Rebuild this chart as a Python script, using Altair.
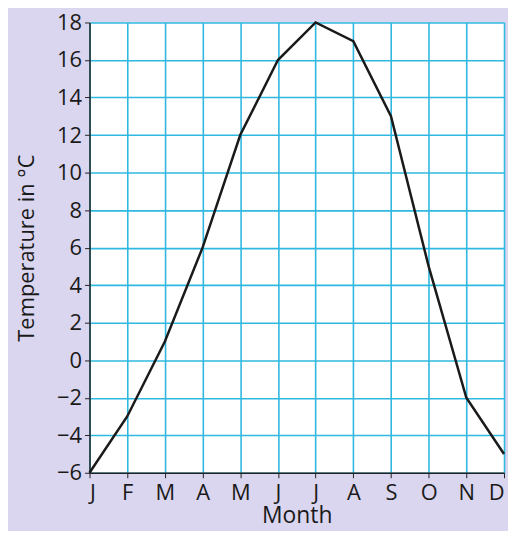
import altair as alt
import pandas as pd

month_labels = ["J", "F", "M", "A", "M", "J", "J", "A", "S", "O", "N", "D"]
month_index = list(range(12))
temperatures = [-6, -3, 1, 6, 12, 16, 18, 17, 13, 5, -2, -5]
y_ticks = list(range(-6, 19, 2))

df = pd.DataFrame({"m": month_index, "t": temperatures})

label_arr = "[" + ",".join("'" + s + "'" for s in month_labels) + "]"

chart = alt.Chart(df).mark_line(color="#1a1a1a", strokeWidth=2.5).encode(
    x=alt.X("m:Q",
            scale=alt.Scale(domain=[0, 11], nice=False, zero=False),
            axis=alt.Axis(values=month_index, labelExpr=label_arr + "[datum.value]",
                          title="Month", titleFontSize=23, titleFontWeight="normal",
                          titlePadding=1,
                          labelFontSize=22, labelPadding=5, tickSize=5,
                          labelOverlap=False,
                          grid=True, gridColor="#2fb8e0", gridWidth=1.6,
                          domainColor="#222222", domainWidth=1.5,
                          tickColor="#222222", labelColor="#1a1a1a",
                          titleColor="#1a1a1a", labelFont="Open Sans",
                          titleFont="Open Sans")),
    y=alt.Y("t:Q",
            scale=alt.Scale(domain=[-6, 18], nice=False, zero=False),
            axis=alt.Axis(values=y_ticks, labelExpr="replace(format(datum.value,'d'),'-','\u2212')",
                          title="Temperature in \u00b0C", titleFontSize=22,
                          titleFontWeight="normal", titlePadding=18,
                          labelFontSize=22, labelPadding=3, tickSize=5,
                          grid=True, gridColor="#2fb8e0", gridWidth=1.6,
                          domainColor="#222222", domainWidth=1.5,
                          tickColor="#222222", labelColor="#1a1a1a",
                          titleColor="#1a1a1a", labelFont="Open Sans",
                          titleFont="Open Sans")),
).properties(
    width=417, height=453,
    background="#dad6ef",
    padding={"left": 82, "top": 13, "right": 4, "bottom": 57},
    autosize=alt.AutoSizeParams(type="none"),
).configure_view(fill="white", stroke=None)

chart.save("out.html", embed_options={"renderer": "svg", "actions": False})
